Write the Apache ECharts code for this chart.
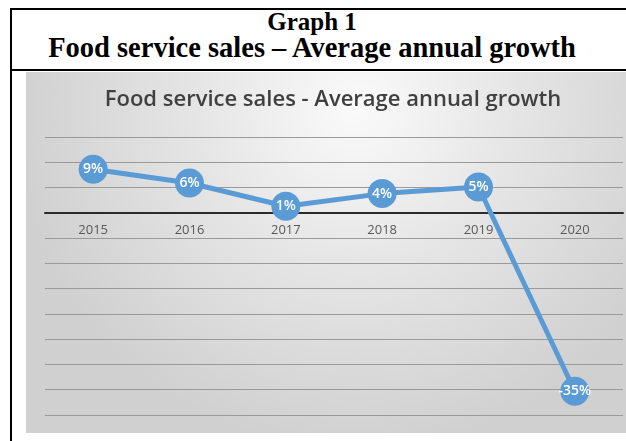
<!DOCTYPE html>
<html>
<head>
<meta charset="utf-8">
<script src="https://cdn.jsdelivr.net/npm/echarts@6/dist/echarts.min.js"></script>
<style>
  html, body { margin: 0; padding: 0; background: #fff; overflow: hidden; }
  #page { position: relative; width: 626px; height: 441px; overflow: hidden; }
  /* table frame round the figure */
  #frame {
    position: absolute; left: 10px; top: 8px; width: 700px; height: 460px;
    border-left: 2px solid #000; border-top: 2px solid #000;
  }
  #sep { position: absolute; left: 10px; top: 69px; width: 700px; height: 2px; background: #000; }
  #head {
    position: absolute; left: 0; top: 9px; width: 624px; text-align: center;
    font-family: "Liberation Serif", "Times New Roman", serif; font-weight: bold;
    color: #000;
  }
  #head .l1 { font-size: 25px; line-height: 25px; }
  #head .l2 { font-size: 28.5px; line-height: 27px; }
  #chart { position: absolute; left: 26px; top: 72px; width: 600px; height: 361px; }
</style>
</head>
<body>
<div id="page">
  <div id="frame"></div>
  <div id="head"><div class="l1">Graph 1</div><div class="l2">Food service sales – Average annual growth</div></div>
  <div id="sep"></div>
  <div id="chart"></div>
</div>
<script>
// data
var years = ['2015', '2016', '2017', '2018', '2019', '2020'];
var growth = [8.6, 5.9, 1.3, 3.8, 5.1, -35.3];
var chartTitle = 'Food service sales - Average annual growth';

var myChart = echarts.init(document.getElementById('chart'));
myChart.setOption({
  backgroundColor: {
    type: 'radial', x: 0.55, y: 0.1, r: 0.95,
    colorStops: [
      { offset: 0, color: '#fafafa' },
      { offset: 0.45, color: '#e6e6e6' },
      { offset: 1, color: '#d0d0d0' }
    ]
  },
  animation: false,
  title: {
    text: chartTitle,
    left: 302,
    top: 12,
    textAlign: 'center',
    textStyle: {
      fontFamily: 'Open Sans',
      fontWeight: 600,
      fontSize: 22,
      color: '#404040'
    }
  },
  grid: {
    left: 19,
    right: 3,
    top: 65,
    bottom: 18,
    containLabel: false,
    outerBoundsMode: 'none'
  },
  xAxis: {
    type: 'category',
    data: years,
    boundaryGap: true,
    axisLine: {
      onZero: false,
      lineStyle: { color: '#2b2b2b', width: 2 }
    },
    axisTick: { show: false },
    axisLabel: {
      margin: 11,
      fontFamily: 'Open Sans',
      fontSize: 13,
      color: '#595959'
    },
    z: 0
  },
  yAxis: {
    type: 'value',
    min: -40,
    max: 15,
    interval: 5,
    axisLine: { show: false },
    axisTick: { show: false },
    axisLabel: { show: false },
    splitLine: {
      lineStyle: { color: '#9a9a9a', width: 1 }
    }
  },
  series: [
    {
      type: 'line',
      data: growth,
      symbol: 'circle',
      symbolSize: 29,
      lineStyle: { color: '#5b9bd5', width: 5 },
      itemStyle: { color: '#5b9bd5' },
      label: {
        show: true,
        position: 'inside',
        fontFamily: 'Open Sans',
        fontSize: 14,
        fontWeight: 600,
        color: '#fff',
        formatter: function (p) { return Math.round(p.value) + '%'; }
      },
      z: 3
    }
  ]
});

// move the category axis (line and labels) up to the zero line
var zeroY = myChart.convertToPixel({ yAxisIndex: 0 }, 0);
var bottomY = myChart.convertToPixel({ yAxisIndex: 0 }, -40);
myChart.setOption({ xAxis: { offset: zeroY - bottomY } });
</script>
</body>
</html>
